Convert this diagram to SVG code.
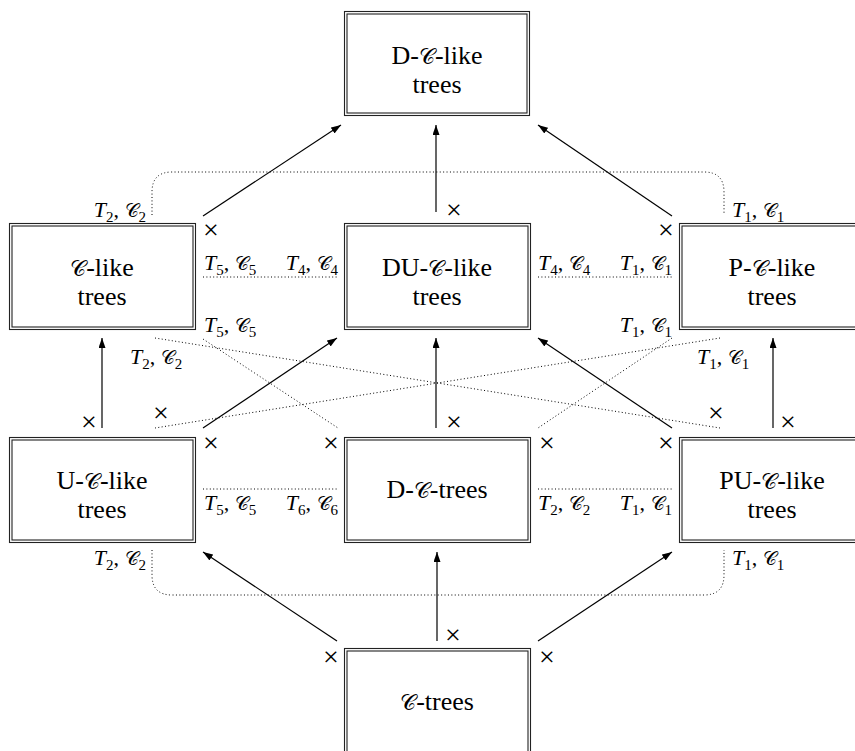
<svg xmlns="http://www.w3.org/2000/svg" width="855" height="751" viewBox="0 0 855 751" font-family="Liberation Serif, DejaVu Serif, serif">
<style>
.bo{fill:#fff;stroke:#222;stroke-width:1.1}
.bi{fill:none;stroke:#222;stroke-width:1.1}
.bt{font-family:"Liberation Serif","DejaVu Serif",serif;font-size:26px;text-anchor:middle;fill:#000}
.lb{font-family:"Liberation Serif","DejaVu Serif",serif;font-size:22px;fill:#000}
.sb{font-size:15px;font-style:normal}
.it{font-style:italic}
.c{font-size:22px}
.cl{font-size:19px}
.x{font-family:"Liberation Serif","DejaVu Serif",serif;font-size:28px;text-anchor:middle;fill:#000}
.ar{stroke:#000;stroke-width:1.2;fill:none;marker-end:url(#ah)}
.dt{stroke:#000;stroke-width:1;fill:none;stroke-dasharray:1 2.4}
</style>
<defs>
<marker id="ah" markerUnits="userSpaceOnUse" markerWidth="11" markerHeight="8" refX="10" refY="3.5" orient="auto">
<path d="M0,0 L10,3.5 L0,7 z" fill="#000"/>
</marker>
</defs>
<g id="connectors">
<path class="dt" d="M152,215 L152,192 Q152,172 172,172 L704,172 Q724,172 724,192 L724,215"/>
<path class="dt" d="M152,550 L152,575 Q152,595 172,595 L704,595 Q724,595 724,575 L724,550"/>
<line class="dt" x1="203" y1="277" x2="338" y2="277"/>
<line class="dt" x1="538" y1="277" x2="672" y2="277"/>
<line class="dt" x1="203" y1="489" x2="338" y2="489"/>
<line class="dt" x1="538" y1="489" x2="672" y2="489"/>
<line class="dt" x1="155" y1="338" x2="720" y2="428"/>
<line class="dt" x1="720" y1="338" x2="155" y2="428"/>
<line class="dt" x1="203" y1="339" x2="338" y2="428"/>
<line class="dt" x1="672" y1="338" x2="538" y2="428"/>
<line class="ar" x1="203" y1="216" x2="341" y2="125"/>
<line class="ar" x1="436" y1="212" x2="436" y2="125"/>
<line class="ar" x1="672" y1="216" x2="538" y2="125"/>
<line class="ar" x1="102" y1="428" x2="102" y2="338"/>
<line class="ar" x1="203" y1="428" x2="337" y2="338"/>
<line class="ar" x1="436" y1="428" x2="436" y2="338"/>
<line class="ar" x1="672" y1="428" x2="538" y2="338"/>
<line class="ar" x1="773" y1="428" x2="773" y2="338"/>
<line class="ar" x1="337" y1="641" x2="203" y2="552"/>
<line class="ar" x1="437" y1="641" x2="437" y2="552"/>
<line class="ar" x1="538" y1="641" x2="672" y2="552"/>
<g id="crosses">
<text class="x" x="211" y="239">×</text>
<text class="x" x="454" y="219">×</text>
<text class="x" x="666" y="239">×</text>
<text class="x" x="89" y="431">×</text>
<text class="x" x="161" y="422">×</text>
<text class="x" x="211" y="452">×</text>
<text class="x" x="331" y="452">×</text>
<text class="x" x="454" y="431">×</text>
<text class="x" x="547" y="452">×</text>
<text class="x" x="666" y="452">×</text>
<text class="x" x="716" y="422">×</text>
<text class="x" x="788" y="431">×</text>
<text class="x" x="331" y="666">×</text>
<text class="x" x="453" y="644">×</text>
<text class="x" x="547" y="666">×</text>
</g>
<g id="labels">
<text class="lb" x="146" y="217" text-anchor="end"><tspan class="it">T</tspan><tspan class="sb" dy="5">2</tspan><tspan dy="-5">, </tspan><tspan class="cl">𝒞</tspan><tspan class="sb" dy="5">2</tspan></text>
<text class="lb" x="732" y="217"><tspan class="it">T</tspan><tspan class="sb" dy="5">1</tspan><tspan dy="-5">, </tspan><tspan class="cl">𝒞</tspan><tspan class="sb" dy="5">1</tspan></text>
<text class="lb" x="204" y="270"><tspan class="it">T</tspan><tspan class="sb" dy="5">5</tspan><tspan dy="-5">, </tspan><tspan class="cl">𝒞</tspan><tspan class="sb" dy="5">5</tspan></text>
<text class="lb" x="338" y="270" text-anchor="end"><tspan class="it">T</tspan><tspan class="sb" dy="5">4</tspan><tspan dy="-5">, </tspan><tspan class="cl">𝒞</tspan><tspan class="sb" dy="5">4</tspan></text>
<text class="lb" x="538" y="270"><tspan class="it">T</tspan><tspan class="sb" dy="5">4</tspan><tspan dy="-5">, </tspan><tspan class="cl">𝒞</tspan><tspan class="sb" dy="5">4</tspan></text>
<text class="lb" x="672" y="270" text-anchor="end"><tspan class="it">T</tspan><tspan class="sb" dy="5">1</tspan><tspan dy="-5">, </tspan><tspan class="cl">𝒞</tspan><tspan class="sb" dy="5">1</tspan></text>
<text class="lb" x="204" y="332"><tspan class="it">T</tspan><tspan class="sb" dy="5">5</tspan><tspan dy="-5">, </tspan><tspan class="cl">𝒞</tspan><tspan class="sb" dy="5">5</tspan></text>
<text class="lb" x="672" y="332" text-anchor="end"><tspan class="it">T</tspan><tspan class="sb" dy="5">1</tspan><tspan dy="-5">, </tspan><tspan class="cl">𝒞</tspan><tspan class="sb" dy="5">1</tspan></text>
<text class="lb" x="130" y="364"><tspan class="it">T</tspan><tspan class="sb" dy="5">2</tspan><tspan dy="-5">, </tspan><tspan class="cl">𝒞</tspan><tspan class="sb" dy="5">2</tspan></text>
<text class="lb" x="697" y="364"><tspan class="it">T</tspan><tspan class="sb" dy="5">1</tspan><tspan dy="-5">, </tspan><tspan class="cl">𝒞</tspan><tspan class="sb" dy="5">1</tspan></text>
<text class="lb" x="204" y="510"><tspan class="it">T</tspan><tspan class="sb" dy="5">5</tspan><tspan dy="-5">, </tspan><tspan class="cl">𝒞</tspan><tspan class="sb" dy="5">5</tspan></text>
<text class="lb" x="338" y="510" text-anchor="end"><tspan class="it">T</tspan><tspan class="sb" dy="5">6</tspan><tspan dy="-5">, </tspan><tspan class="cl">𝒞</tspan><tspan class="sb" dy="5">6</tspan></text>
<text class="lb" x="538" y="510"><tspan class="it">T</tspan><tspan class="sb" dy="5">2</tspan><tspan dy="-5">, </tspan><tspan class="cl">𝒞</tspan><tspan class="sb" dy="5">2</tspan></text>
<text class="lb" x="672" y="510" text-anchor="end"><tspan class="it">T</tspan><tspan class="sb" dy="5">1</tspan><tspan dy="-5">, </tspan><tspan class="cl">𝒞</tspan><tspan class="sb" dy="5">1</tspan></text>
<text class="lb" x="146" y="565" text-anchor="end"><tspan class="it">T</tspan><tspan class="sb" dy="5">2</tspan><tspan dy="-5">, </tspan><tspan class="cl">𝒞</tspan><tspan class="sb" dy="5">2</tspan></text>
<text class="lb" x="732" y="565"><tspan class="it">T</tspan><tspan class="sb" dy="5">1</tspan><tspan dy="-5">, </tspan><tspan class="cl">𝒞</tspan><tspan class="sb" dy="5">1</tspan></text>
</g>
</g>
<g id="n-dlike">
<rect class="bo" x="344.5" y="11.5" width="185" height="104"/>
<rect class="bi" x="347" y="14" width="180" height="99"/>
<text class="bt"><tspan x="437" y="63.5">D-<tspan class="c">𝒞</tspan>-like</tspan><tspan x="437" y="92.5">trees</tspan></text>
</g>
<g id="n-clike">
<rect class="bo" x="9.5" y="223.5" width="186" height="106"/>
<rect class="bi" x="12" y="226" width="181" height="101"/>
<text class="bt"><tspan x="102" y="275.5"><tspan class="c">𝒞</tspan>-like</tspan><tspan x="102" y="304.5">trees</tspan></text>
</g>
<g id="n-dulike">
<rect class="bo" x="344.5" y="223.5" width="186" height="106"/>
<rect class="bi" x="347" y="226" width="181" height="101"/>
<text class="bt"><tspan x="437" y="275.5">DU-<tspan class="c">𝒞</tspan>-like</tspan><tspan x="437" y="304.5">trees</tspan></text>
</g>
<g id="n-plike">
<rect class="bo" x="679.5" y="223.5" width="186" height="106"/>
<rect class="bi" x="682" y="226" width="181" height="101"/>
<text class="bt"><tspan x="772" y="275.5">P-<tspan class="c">𝒞</tspan>-like</tspan><tspan x="772" y="304.5">trees</tspan></text>
</g>
<g id="n-ulike">
<rect class="bo" x="9.5" y="437.5" width="186" height="105"/>
<rect class="bi" x="12" y="440" width="181" height="100"/>
<text class="bt"><tspan x="102" y="488.5">U-<tspan class="c">𝒞</tspan>-like</tspan><tspan x="102" y="517.5">trees</tspan></text>
</g>
<g id="n-dtrees">
<rect class="bo" x="344.5" y="437.5" width="186" height="105"/>
<rect class="bi" x="347" y="440" width="181" height="100"/>
<text class="bt" x="437" y="498">D-<tspan class="c">𝒞</tspan>-trees</text>
</g>
<g id="n-pulike">
<rect class="bo" x="679.5" y="437.5" width="186" height="105"/>
<rect class="bi" x="682" y="440" width="181" height="100"/>
<text class="bt"><tspan x="772" y="488.5">PU-<tspan class="c">𝒞</tspan>-like</tspan><tspan x="772" y="517.5">trees</tspan></text>
</g>
<g id="n-ctrees">
<rect class="bo" x="344.5" y="648.5" width="186" height="106"/>
<rect class="bi" x="347" y="651" width="181" height="101"/>
<text class="bt" x="437" y="710"><tspan class="c">𝒞</tspan>-trees</text>
</g>
</svg>
